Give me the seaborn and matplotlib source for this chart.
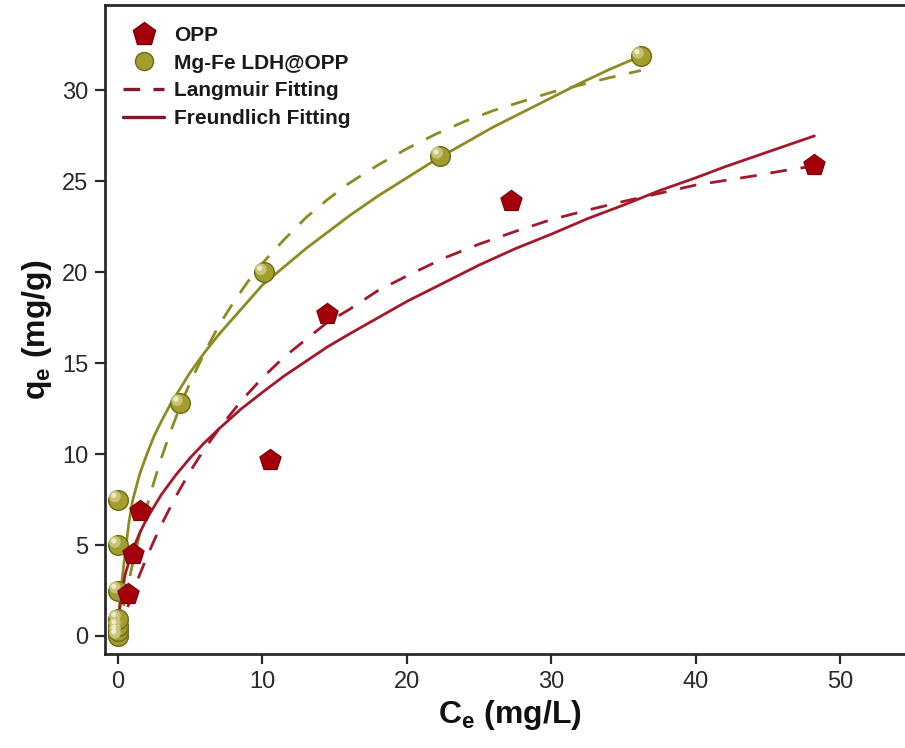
import numpy as np
import pandas as pd
import seaborn as sns
import matplotlib
matplotlib.use("Agg")
import matplotlib.pyplot as plt
from matplotlib.lines import Line2D
from matplotlib.transforms import ScaledTranslation

# ---------------- data ----------------
opp_ce = [0.7, 1.04, 1.5, 10.5, 14.5, 27.2, 48.2]
opp_qe = [2.3, 4.5, 6.85, 9.7, 17.7, 23.9, 25.9]

ldh_ce = [0.0, 0.0, 0.0, 0.0, 0.0, 0.0, 0.0, 4.3, 10.1, 22.3, 36.2]
ldh_qe = [0.0, 0.25, 0.55, 0.95, 2.5, 5.0, 7.5, 12.8, 20.0, 26.4, 31.9]

# fitted curves, points
ldh_freu_x = [0, 0.05, 0.15, 0.3, 0.5, 0.75, 1, 1.5, 2, 2.5, 3, 3.6, 4.3, 5, 6, 7, 8, 9, 10,
              11.5, 13, 14.5, 16, 18, 20, 22, 24, 26, 28, 30, 32, 34, 36.2]
ldh_freu_y = [0, 1.0, 2.1, 3.2, 4.6, 6.2, 7.4, 8.9, 10.0, 11.0, 11.8, 12.7, 13.6, 14.5, 15.6, 16.6, 17.5, 18.4, 19.3,
              20.3, 21.3, 22.2, 23.1, 24.2, 25.2, 26.2, 27.1, 28.0, 28.8, 29.6, 30.4, 31.15, 31.9]

ldh_lang_x = [0, 0.1, 0.3, 0.6, 1, 1.5, 2, 2.5, 3, 3.6, 4.3, 5, 6, 7, 8, 9, 10, 11.5, 13, 14.5,
              16, 18, 20, 22, 24, 26, 28, 30, 32, 34, 36.2]
ldh_lang_y = [0, 0.43, 1.27, 2.45, 3.92, 5.6, 7.12, 8.5, 9.78, 11.15, 12.64, 13.95, 15.6, 17.1, 18.35, 19.5, 20.5, 21.8, 23.0, 24.0,
              24.9, 25.9, 26.8, 27.6, 28.3, 28.9, 29.4, 29.9, 30.3, 30.7, 31.1]

opp_freu_x = [0, 0.05, 0.2, 0.5, 1, 1.5, 2, 3, 4, 5, 6, 7, 8.5, 10, 11.5, 13, 14.5, 16, 18, 20,
              22.5, 25, 27.5, 30, 32.5, 35, 37.5, 40, 42, 44, 46, 48.2]
opp_freu_y = [0, 1.0, 2.0, 3.4, 4.7, 5.66, 6.46, 7.77, 8.85, 9.8, 10.64, 11.4, 12.47, 13.4, 14.3, 15.1, 15.9, 16.6, 17.5, 18.4,
              19.4, 20.4, 21.3, 22.1, 22.95, 23.7, 24.5, 25.2, 25.8, 26.35, 26.9, 27.5]

opp_lang_x = [0, 0.3, 0.6, 1, 1.5, 2, 2.5, 3, 4, 5, 6, 7, 8.5, 10, 11.5, 13, 14.5, 16, 18, 20,
              22.5, 25, 27.5, 30, 32.5, 35, 37.5, 40, 42, 44, 46, 48.2]
opp_lang_y = [0, 0.73, 1.43, 2.32, 3.37, 4.34, 5.25, 6.11, 7.67, 9.06, 10.3, 11.4, 12.9, 14.2, 15.34, 16.3, 17.25, 17.95, 19.0, 19.8,
              20.76, 21.55, 22.25, 22.9, 23.42, 23.9, 24.35, 24.8, 25.05, 25.3, 25.58, 25.85]

x_ticks = [0, 10, 20, 30, 40, 50]
y_ticks = [0, 5, 10, 15, 20, 25, 30]
legend_labels = ["OPP", "Mg-Fe LDH@OPP", "Langmuir Fitting", "Freundlich Fitting"]

# ---------------- style ----------------
sns.set_style("ticks")
plt.rcParams["font.family"] = ["Liberation Sans", "DejaVu Sans"]
plt.rcParams["lines.solid_joinstyle"] = "round"
plt.rcParams["lines.dash_joinstyle"] = "round"

RED = "#A3000C"
RED_EDGE = "#7A0008"
RED_LINE = "#A3182A"
OLIVE = "#A39C2E"
OLIVE_EDGE = "#6E6914"
OLIVE_LINE = "#8E8A22"
AXC = "#2a2a2a"

fig = plt.figure(figsize=(9.05, 7.48), dpi=100)
ax = fig.add_axes([0.116, 0.1257, 0.894, 0.8676])

dash = (6, 5)
# fitting lines
sns.lineplot(x=ldh_lang_x, y=ldh_lang_y, ax=ax, color=OLIVE_LINE, lw=2.0,
             estimator=None, sort=False, linestyle=(0, dash))
sns.lineplot(x=ldh_freu_x, y=ldh_freu_y, ax=ax, color=OLIVE_LINE, lw=2.0,
             estimator=None, sort=False)
sns.lineplot(x=opp_lang_x, y=opp_lang_y, ax=ax, color=RED_LINE, lw=2.0,
             estimator=None, sort=False, linestyle=(0, dash))
sns.lineplot(x=opp_freu_x, y=opp_freu_y, ax=ax, color=RED_LINE, lw=2.0,
             estimator=None, sort=False)

# markers: LDH spheres (layered for a shaded look)
sns.scatterplot(x=ldh_ce, y=ldh_qe, ax=ax, s=200, color=OLIVE, edgecolor=OLIVE_EDGE,
                linewidth=1.0, zorder=5, legend=False)
sns.scatterplot(x=ldh_ce, y=ldh_qe, ax=ax, s=70, color="#C9C377", edgecolor="none",
                zorder=6, legend=False)
hl = ax.collections[-1]
hl.set_offset_transform(ax.transData + ScaledTranslation(-2.2 / 72, 2.2 / 72, fig.dpi_scale_trans))
sns.scatterplot(x=ldh_ce, y=ldh_qe, ax=ax, s=14, color="#EEEBCB", edgecolor="none",
                zorder=7, legend=False)
hl2 = ax.collections[-1]
hl2.set_offset_transform(ax.transData + ScaledTranslation(-3.0 / 72, 3.0 / 72, fig.dpi_scale_trans))

# OPP pentagons
sns.scatterplot(x=opp_ce, y=opp_qe, ax=ax, s=260, marker="p", color=RED,
                edgecolor=RED_EDGE, linewidth=0.8, zorder=8, legend=False)

ax.set_xlim(-0.9, 55.1)
ax.set_ylim(-0.99, 34.7)
ax.set_xticks(x_ticks)
ax.set_yticks(y_ticks)
ax.tick_params(axis="both", direction="out", length=7, width=1.6, colors=AXC,
               labelsize=17, pad=5)
for s in ["left", "bottom", "top", "right"]:
    ax.spines[s].set_linewidth(2.0)
    ax.spines[s].set_color(AXC)
ax.tick_params(top=False, right=False)

ax.set_xlabel("C$_\\mathregular{e}$ (mg/L)", fontsize=23, fontweight="bold", color="#111", labelpad=4)
ax.set_ylabel("q$_\\mathregular{e}$ (mg/g)", fontsize=23, fontweight="bold", color="#111", labelpad=6)

handles = [
    Line2D([], [], linestyle="none", marker="p", markersize=17, color=RED, markeredgecolor=RED_EDGE),
    Line2D([], [], linestyle="none", marker="o", markersize=13, color=OLIVE, markeredgecolor=OLIVE_EDGE),
    Line2D([], [], color="#7E1A24", lw=2.4, linestyle=(0, (5, 4))),
    Line2D([], [], color="#7E1A24", lw=2.4),
]
leg = ax.legend(handles, legend_labels, loc="upper left", bbox_to_anchor=(0.0, 0.995),
                frameon=False, handlelength=2.0, handletextpad=0.45, labelspacing=0.42,
                borderaxespad=0.45, prop={"weight": "bold", "size": 15})
for t in leg.get_texts():
    t.set_color("#1a1a1a")

fig.savefig("out.png", dpi=100)
